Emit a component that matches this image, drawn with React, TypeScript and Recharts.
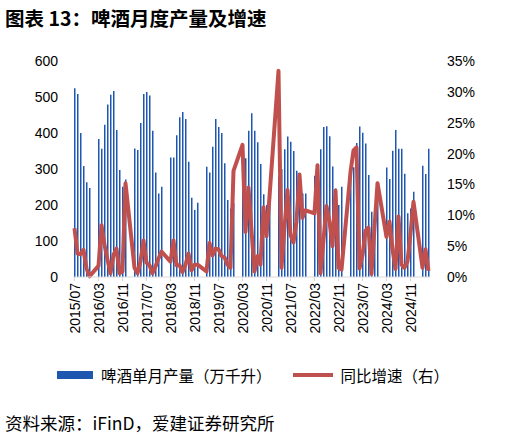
import { ComposedChart, Bar, Line, XAxis, YAxis } from "recharts";

// 啤酒单月产量（万千升），每年 1、2 月无单月数据
const prod2015 = [524, 508, 400, 308, 263, 247]; // 07-12
const prod2016 = [null, null, 383, 356, 423, 479, 506, 517, 408, 297, 251, 271];
const prod2017 = [null, null, 357, 353, 428, 508, 514, 504, 406, 290, 232, 251];
const prod2018 = [null, null, 332, 332, 394, 444, 458, 439, 320, 220, 186, 206];
const prod2019 = [null, null, 306, 290, 362, 439, 417, 400, 316, 214, 190, 205];
const prod2020 = [null, null, 308, 330, 406, 455, 406, 374, 314, 230, 200, 215];
const prod2021 = [null, null, 280, 300, 355, 390, 376, 350, 295, 288, 232, 232];
const prod2022 = [null, null, 281, 300, 355, 417, 419, 391, 307, 246, 200, 251];
const prod2023 = [null, null, 300, 305, 372, 418, 401, 371, 283, 181, 195, 215];
const prod2024 = [null, null, 304, 272, 351, 408, 356, 356, 287, 177, 190, 237];
const prod2025 = [null, null, 309, 286, 356]; // 01-05

// 同比增速（%）
const yoy2015 = [7.9, 3.8, 3.7, 4.4, 1.4, 0.1];
const yoy2016 = [null, null, 1.8, 8.4, 5.2, 2.8, 0.6, 3.6, 4.6, 0.6, 0.9, 15.2];
const yoy2017 = [null, null, 1.5, 0.6, 2.5, 5.9, 2.3, 1.9, 0.6, 1.7, 3.0, 4.1];
const yoy2018 = [null, null, 2.5, 5.9, 1.9, 1.9, 0.8, 2.0, 3.8, 1.1, 2.0, 2.0];
const yoy2019 = [null, null, 0.9, 5.5, 3.5, 4.6, 4.5, 3.4, 3.2, 2.0, 1.5, 17.2];
const yoy2020 = [null, null, 21.4, 7.3, 14.5, 7.5, 0.9, 3.4, 2.0, 11.3, 6.6, 13.0];
const yoy2021 = [null, null, 33.4, 1.5, 8.0, 14.1, 6.8, 5.6, 9.0, 16.6, 9.6, 10.8];
const yoy2022 = [null, null, 10.3, 18.1, 0.6, 6.0, 11.5, 9.0, 5.0, 14.0, 1.5, 1.2];
const yoy2023 = [null, null, 17.0, 20.5, 21.0, 1.4, 3.5, 7.5, 8.0, 0.5, 8.0, 15.2];
const yoy2024 = [null, null, 6.5, 9.0, 4.5, 1.3, 9.8, 2.0, 1.5, 2.5, 7.0, 12.2];
const yoy2025 = [null, null, 1.5, 4.5, 1.0];

const years = [2015, 2016, 2017, 2018, 2019, 2020, 2021, 2022, 2023, 2024, 2025];
const prodByYear = [prod2015, prod2016, prod2017, prod2018, prod2019, prod2020, prod2021, prod2022, prod2023, prod2024, prod2025];
const yoyByYear = [yoy2015, yoy2016, yoy2017, yoy2018, yoy2019, yoy2020, yoy2021, yoy2022, yoy2023, yoy2024, yoy2025];

const leftTicks = [0, 100, 200, 300, 400, 500, 600];
const rightTicks = [0, 5, 10, 15, 20, 25, 30, 35];

const data = years.flatMap((yr, i) => {
  const first = i === 0 ? 7 : 1;
  return prodByYear[i].map((p, j) => ({
    month: `${yr}/${String(first + j).padStart(2, "0")}`,
    prod: p,
    yoy: yoyByYear[i][j],
  }));
});

const FONT = "Arial, 'Liberation Sans', 'Noto Sans CJK SC', sans-serif";
const CJK = "'Noto Sans CJK SC', 'Microsoft YaHei', sans-serif";

function XTick({ x, y, payload }: any) {
  return (
    <text
      x={x}
      y={y}
      transform={`rotate(-90 ${x} ${y})`}
      textAnchor="end"
      dominantBaseline="central"
      fontSize={14}
      fontFamily={FONT}
      fill="#000"
    >
      {payload.value}
    </text>
  );
}

export default function App() {
  return (
    <div
      style={{
        position: "absolute",
        left: 0,
        top: 0,
        width: 505,
        height: 439,
        background: "#fff",
        overflow: "hidden",
      }}
    >
      <div
        style={{
          position: "absolute",
          left: 5,
          top: 3,
          fontFamily: CJK,
          fontWeight: 700,
          fontSize: 19.5,
          color: "#000",
          whiteSpace: "nowrap",
        }}
      >
        图表 13：啤酒月度产量及增速
      </div>

      <div style={{ position: "absolute", left: 0, top: 0 }}>
        <ComposedChart
          width={505}
          height={352}
          data={data}
          margin={{ top: 61, right: 15, bottom: 0, left: 13 }}
          barCategoryGap={0}
        >
          <XAxis
            dataKey="month"
            interval={7}
            height={75}
            tick={<XTick />}
            tickSize={4}
            tickMargin={2}
            axisLine={{ stroke: "#d9d9d9" }}
            tickLine={{ stroke: "#d9d9d9" }}
          />
          <YAxis
            yAxisId="left"
            width={60}
            domain={[0, 600]}
            ticks={leftTicks}
            axisLine={false}
            tickLine={false}
            tickMargin={9}
            tick={{ fontSize: 14, fill: "#000", fontFamily: FONT }}
          />
          <YAxis
            yAxisId="right"
            orientation="right"
            width={60}
            domain={[0, 35]}
            ticks={rightTicks}
            axisLine={false}
            tickLine={false}
            tickMargin={11}
            tickFormatter={(v) => `${v}%`}
            tick={{ fontSize: 14, fill: "#000", fontFamily: FONT, textAnchor: "start" }}
          />
          <Bar
            yAxisId="left"
            dataKey="prod"
            fill="#1f56b0"
            barSize={1.5}
            isAnimationActive={false}
          />
          <Line
            yAxisId="right"
            dataKey="yoy"
            type="linear"
            stroke="#c0504d"
            strokeWidth={4}
            strokeLinejoin="round"
            dot={false}
            activeDot={false}
            connectNulls
            isAnimationActive={false}
          />
        </ComposedChart>
      </div>

      <div
        style={{
          position: "absolute",
          left: 57,
          top: 364,
          display: "flex",
          alignItems: "center",
          fontFamily: CJK,
          fontSize: 15.5,
          color: "#000",
          whiteSpace: "nowrap",
        }}
      >
        <span style={{ display: "inline-block", width: 36, height: 8, background: "#1f56b0", marginRight: 8 }} />
        <span>啤酒单月产量（万千升）</span>
        <span style={{ display: "inline-block", width: 40, height: 4, background: "#c0504d", marginLeft: 21, marginRight: 8 }} />
        <span>同比增速（右）</span>
      </div>

      <div
        style={{
          position: "absolute",
          left: 5,
          top: 410,
          fontFamily: CJK,
          fontSize: 17.5,
          color: "#000",
          whiteSpace: "nowrap",
        }}
      >
        资料来源：iFinD，爱建证券研究所
      </div>
    </div>
  );
}
